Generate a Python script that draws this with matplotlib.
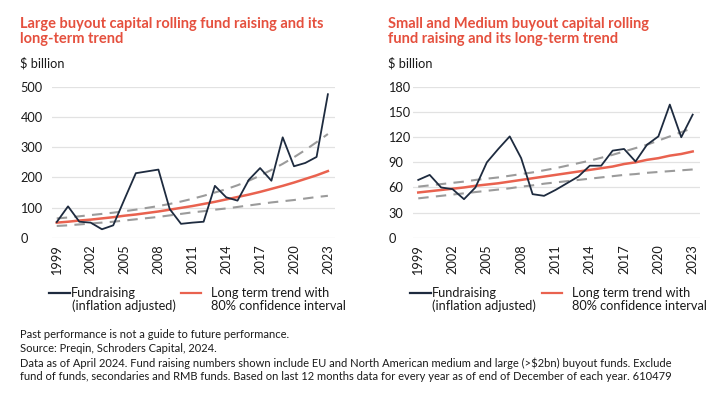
import matplotlib
matplotlib.use("Agg")
import matplotlib.pyplot as plt
from matplotlib.lines import Line2D

plt.rcParams['font.family'] = ['Lato', 'DejaVu Sans']

years = list(range(1999, 2024))
xtick_years = [1999, 2002, 2005, 2008, 2011, 2014, 2017, 2020, 2023]

# Large buyout (USD bn)
large_fund = [52, 104, 53, 50, 28, 41, 128, 214, 220, 226, 95, 46, 50, 53,
              172, 134, 123, 192, 231, 189, 333, 237, 248, 268, 476]
large_trend = [50, 53, 57, 60, 64, 68, 73, 77, 82, 87, 93, 99, 105, 112,
               119, 127, 135, 143, 152, 162, 172, 183, 195, 207, 221]
large_upper = [64, 67, 71, 75, 79, 83, 88, 93, 99, 105, 112, 120, 129, 139,
               150, 161, 174, 189, 206, 225, 245, 267, 291, 317, 344]
large_lower = [39, 41, 44, 47, 50, 53, 57, 61, 65, 69, 74, 79, 84, 88,
               93, 97, 102, 107, 112, 117, 121, 125, 130, 135, 139]

# Small and medium buyout (USD bn)
sm_fund = [69, 75, 60, 58, 46, 60, 90, 106, 121, 95, 52, 50, 57, 65,
           73, 86, 86, 104, 106, 91, 111, 121, 159, 120, 147]
sm_trend = [54, 55.5, 57, 58.5, 60, 62, 63.5, 65, 67, 69, 71, 73, 75, 77,
            79, 81, 83, 85, 88, 90, 93, 95, 98, 100, 103]
sm_upper = [61, 62.5, 64, 65.5, 67, 69, 70.5, 72, 74, 76, 78, 80.5, 83, 86,
            89, 92, 95.5, 99, 103, 107, 111, 116, 121, 126, 131]
sm_lower = [47, 48.5, 50, 51.5, 53, 54.5, 56, 57.5, 59, 61, 62.5, 64.5, 66, 67.5,
            69, 70.5, 72, 73.5, 75, 76, 77.5, 78.5, 79.5, 80.5, 81.5]

large_yticks = [0, 100, 200, 300, 400, 500]
sm_yticks = [0, 30, 60, 90, 120, 150, 180]

titles = ["Large buyout capital rolling fund raising and its\nlong-term trend",
          "Small and Medium buyout capital rolling\nfund raising and its long-term trend"]
unit_label = "$ billion"
legend_labels = ["Fundraising\n(inflation adjusted)", "Long term trend with\n80% confidence interval"]
footnotes = [
    "Past performance is not a guide to future performance.",
    "Source: Preqin, Schroders Capital, 2024.",
    "Data as of April 2024. Fund raising numbers shown include EU and North American medium and large (>$2bn) buyout funds. Exclude",
    "fund of funds, secondaries and RMB funds. Based on last 12 months data for every year as of end of December of each year. 610479",
]

RED = "#E9624F"
TITLE_RED = "#E5503E"
NAVY = "#1E2B3F"
GREY = "#9B9B9B"
GRID = "#E2E2E2"
TEXT = "#1A1A1A"

W, H = 723, 393
fig = plt.figure(figsize=(W / 100, H / 100), dpi=100)
fig.patch.set_facecolor("white")

def fx(px):
    return px / W

def fy(py):
    return 1 - py / H

panels = [
    dict(left=52, right=335, fund=large_fund, trend=large_trend, up=large_upper,
         lo=large_lower, yticks=large_yticks, xlim=(1998.58, 2023.63),
         labx=20, title=titles[0]),
    dict(left=413, right=700, fund=sm_fund, trend=sm_trend, up=sm_upper,
         lo=sm_lower, yticks=sm_yticks, xlim=(1998.54, 2023.64),
         labx=388, title=titles[1]),
]

FS = 9.2
top_px, bot_px = 87.0, 237.7
for p in panels:
    ax = fig.add_axes([fx(p["left"]), fy(bot_px), fx(p["right"] - p["left"]),
                       (bot_px - top_px) / H])
    ax.set_xlim(*p["xlim"])
    ax.set_ylim(p["yticks"][0], p["yticks"][-1])
    ax.plot(years, p["up"], color=GREY, lw=1.5, dashes=(5, 3.5), zorder=2)
    ax.plot(years, p["lo"], color=GREY, lw=1.5, dashes=(5, 3.5), zorder=2)
    ax.plot(years, p["trend"], color=RED, lw=1.8, zorder=3)
    ax.plot(years, p["fund"], color=NAVY, lw=1.3, zorder=4)
    for s in ax.spines.values():
        s.set_visible(False)
    ax.set_yticks(p["yticks"])
    ax.set_yticklabels([str(v) for v in p["yticks"]])
    ax.grid(axis="y", color=GRID, lw=0.9)
    ax.set_axisbelow(True)
    ax.set_xticks(xtick_years)
    ax.set_xticklabels([str(y) for y in xtick_years], rotation=90)
    ax.tick_params(axis="both", length=0, labelsize=FS, colors=TEXT)
    ax.tick_params(axis="x", pad=5)
    pad_pt = (p["left"] - p["labx"] - 0.5) * 72 / 100
    ax.tick_params(axis="y", pad=pad_pt)
    for lab in ax.get_yticklabels():
        lab.set_horizontalalignment("left")
    ax.patch.set_alpha(0)

    lx = p["labx"]
    for i, tl in enumerate(p["title"].split("\n")):
        fig.text(fx(lx), fy(24 + 15 * i), tl, color=TITLE_RED, fontsize=10.5,
                 fontweight="bold", ha="left", va="center")
    fig.text(fx(lx), fy(63), unit_label, color=TEXT, fontsize=FS,
             ha="left", va="center")

    # legend
    a = p["left"]
    ly = 293
    fig.add_artist(Line2D([fx(a - 3), fx(a + 18)], [fy(ly), fy(ly)],
                          color=NAVY, lw=1.6, transform=fig.transFigure))
    for i, tl in enumerate(legend_labels[0].split("\n")):
        fig.text(fx(a + 18.5 + (1 if i else 0)), fy(ly + 13 * i), tl, color=TEXT,
                 fontsize=FS, ha="left", va="center")
    fig.add_artist(Line2D([fx(a + 129), fx(a + 149)], [fy(ly), fy(ly)],
                          color=RED, lw=1.6, transform=fig.transFigure))
    for i, tl in enumerate(legend_labels[1].split("\n")):
        fig.text(fx(a + 159), fy(ly + 13 * i), tl, color=TEXT,
                 fontsize=FS, ha="left", va="center")

for i, line in enumerate(footnotes):
    fig.text(fx(20), fy(335 + 14 * i), line, color=TEXT, fontsize=8.0,
             ha="left", va="center")

fig.savefig("out.png", dpi=100, facecolor="white")
